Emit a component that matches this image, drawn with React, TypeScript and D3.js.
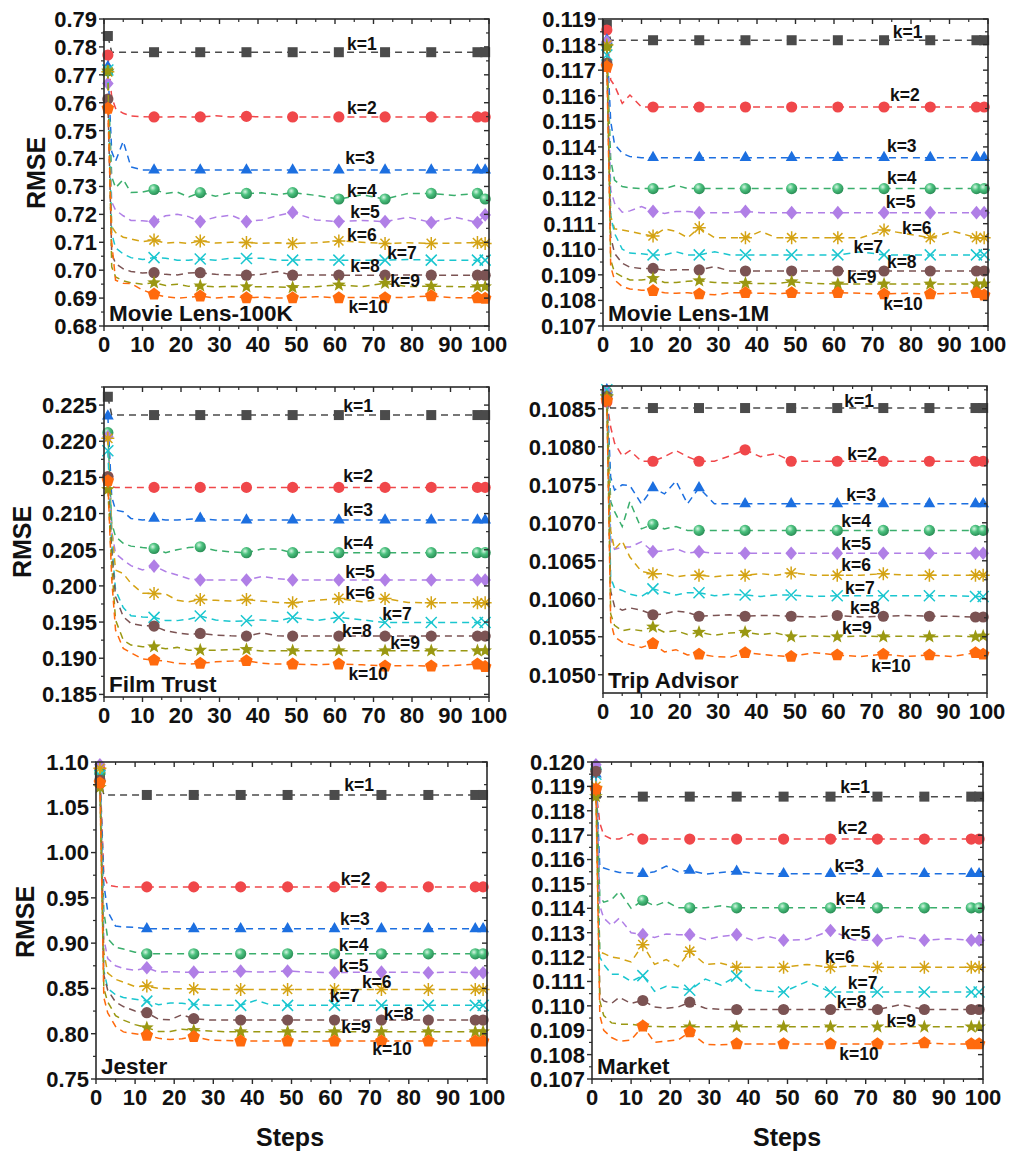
import React from "react";
import * as d3 from "d3";

// ---------- shared data ----------
const STEPS = [1, 2, 3, 5, 7, 10, 13, 16, 19, 22, 25, 29, 33, 37, 41, 45, 49, 55, 61, 67, 73, 79, 85, 91, 97, 99];
const MARKER_STEPS = [1, 13, 25, 37, 49, 61, 73, 85, 97, 99];
const SERIES = ["k=1", "k=2", "k=3", "k=4", "k=5", "k=6", "k=7", "k=8", "k=9", "k=10"];
const X_TICKS = [0, 10, 20, 30, 40, 50, 60, 70, 80, 90, 100];

// ---------- Movie Lens-100K ----------
const ML100K = [
  [0.7839,0.7781,0.7781,0.7781,0.7781,0.7781,0.7781,0.7781,0.7781,0.7781,0.7781,0.7781,0.7781,0.7781,0.7781,0.7781,0.7781,0.7781,0.7781,0.7781,0.7781,0.7781,0.7781,0.7781,0.7781,0.7781],
  [0.7771,0.7620,0.7580,0.7562,0.7553,0.7550,0.7549,0.7549,0.7550,0.7549,0.7549,0.7553,0.7549,0.7551,0.7549,0.7549,0.7549,0.7549,0.7549,0.7549,0.7549,0.7549,0.7549,0.7549,0.7549,0.7549],
  [0.7729,0.7425,0.7390,0.7462,0.7370,0.7359,0.7359,0.7359,0.7359,0.7359,0.7359,0.7359,0.7359,0.7359,0.7359,0.7359,0.7359,0.7359,0.7359,0.7359,0.7359,0.7359,0.7359,0.7359,0.7359,0.7359],
  [0.7714,0.7335,0.7295,0.7325,0.7278,0.7280,0.7289,0.7275,0.7280,0.7262,0.7278,0.7265,0.7277,0.7275,0.7277,0.7270,0.7278,0.7268,0.7255,0.7270,0.7255,0.7275,0.7275,0.7268,0.7275,0.7255],
  [0.7669,0.7245,0.7215,0.7195,0.7178,0.7177,0.7174,0.7195,0.7200,0.7192,0.7174,0.7190,0.7197,0.7174,0.7180,0.7195,0.7207,0.7180,0.7174,0.7178,0.7174,0.7190,0.7171,0.7190,0.7171,0.7198],
  [0.7711,0.7156,0.7135,0.7118,0.7112,0.7102,0.7108,0.7097,0.7100,0.7096,0.7105,0.7097,0.7100,0.7099,0.7096,0.7098,0.7096,0.7098,0.7105,0.7100,0.7096,0.7098,0.7096,0.7097,0.7099,0.7096],
  [0.7717,0.7132,0.7080,0.7058,0.7045,0.7038,0.7045,0.7043,0.7036,0.7036,0.7040,0.7036,0.7043,0.7042,0.7043,0.7036,0.7036,0.7038,0.7036,0.7036,0.7036,0.7038,0.7036,0.7036,0.7036,0.7036],
  [0.7613,0.7060,0.7024,0.7005,0.6995,0.6990,0.6991,0.6985,0.6983,0.6990,0.6991,0.6985,0.6983,0.6982,0.6985,0.6995,0.6982,0.6983,0.6982,0.6982,0.6982,0.6983,0.6982,0.6982,0.6982,0.6982],
  [0.7714,0.7012,0.6976,0.6962,0.6955,0.6950,0.6955,0.6945,0.6950,0.6942,0.6944,0.6940,0.6942,0.6941,0.6941,0.6940,0.6938,0.6941,0.6947,0.6941,0.6953,0.6941,0.6943,0.6941,0.6941,0.6941],
  [0.7580,0.7100,0.6964,0.6953,0.6952,0.6929,0.6914,0.6905,0.6900,0.6903,0.6907,0.6900,0.6905,0.6901,0.6903,0.6900,0.6901,0.6905,0.6901,0.6903,0.6901,0.6903,0.6908,0.6901,0.6901,0.6899],
];
const ML100K_TICKS = [0.68, 0.69, 0.70, 0.71, 0.72, 0.73, 0.74, 0.75, 0.76, 0.77, 0.78, 0.79];
const ML100K_LABELS = [[67, 0.781], [67, 0.7581], [66.5, 0.7402], [67, 0.7283], [67.8, 0.7208], [67, 0.7126], [77.4, 0.7061], [67.8, 0.7015], [78.2, 0.6961], [68.6, 0.6868]];

// ---------- Movie Lens-1M ----------
const ML1M = [
  [0.11877,0.11817,0.11817,0.11817,0.11817,0.11817,0.11817,0.11817,0.11817,0.11817,0.11817,0.11817,0.11817,0.11817,0.11817,0.11817,0.11817,0.11817,0.11817,0.11817,0.11817,0.11817,0.11817,0.11817,0.11817,0.11817],
  [0.11857,0.11662,0.11640,0.11570,0.11603,0.11556,0.11556,0.11556,0.11556,0.11556,0.11556,0.11556,0.11556,0.11556,0.11556,0.11556,0.11556,0.11556,0.11556,0.11556,0.11556,0.11556,0.11556,0.11556,0.11556,0.11556],
  [0.11818,0.11500,0.11410,0.11375,0.11362,0.11358,0.11358,0.11358,0.11358,0.11358,0.11358,0.11358,0.11358,0.11358,0.11358,0.11358,0.11358,0.11358,0.11358,0.11358,0.11358,0.11358,0.11358,0.11358,0.11358,0.11358],
  [0.11798,0.11350,0.11270,0.11245,0.11240,0.11237,0.11237,0.11237,0.11250,0.11237,0.11237,0.11237,0.11237,0.11237,0.11237,0.11237,0.11237,0.11237,0.11237,0.11237,0.11237,0.11237,0.11237,0.11237,0.11237,0.11237],
  [0.11811,0.11232,0.11180,0.11145,0.11150,0.11167,0.11148,0.11140,0.11148,0.11148,0.11143,0.11143,0.11143,0.11148,0.11143,0.11143,0.11143,0.11143,0.11143,0.11143,0.11143,0.11143,0.11143,0.11143,0.11143,0.11143],
  [0.11798,0.11130,0.11080,0.11075,0.11070,0.11060,0.11052,0.11080,0.11070,0.11045,0.11084,0.11045,0.11045,0.11045,0.11070,0.11045,0.11045,0.11045,0.11045,0.11045,0.11075,0.11060,0.11045,0.11070,0.11045,0.11045],
  [0.11759,0.11130,0.11062,0.11000,0.10985,0.10982,0.10978,0.10978,0.10990,0.10978,0.10978,0.10990,0.10978,0.10978,0.10978,0.10978,0.10978,0.10978,0.10978,0.10990,0.10978,0.10978,0.10978,0.10978,0.10978,0.10978],
  [0.11727,0.11050,0.10984,0.10945,0.10930,0.10925,0.10925,0.10918,0.10920,0.10920,0.10919,0.10932,0.10915,0.10915,0.10915,0.10915,0.10915,0.10915,0.10915,0.10915,0.10915,0.10915,0.10915,0.10915,0.10915,0.10915],
  [0.11792,0.10958,0.10910,0.10893,0.10880,0.10880,0.10886,0.10870,0.10870,0.10875,0.10877,0.10870,0.10868,0.10867,0.10866,0.10866,0.10873,0.10866,0.10864,0.10864,0.10864,0.10864,0.10864,0.10864,0.10864,0.10864],
  [0.11714,0.10932,0.10880,0.10854,0.10845,0.10840,0.10838,0.10830,0.10828,0.10830,0.10825,0.10822,0.10830,0.10830,0.10828,0.10826,0.10830,0.10828,0.10830,0.10828,0.10825,0.10828,0.10825,0.10828,0.10830,0.10821],
];
const ML1M_TICKS = [0.107, 0.108, 0.109, 0.110, 0.111, 0.112, 0.113, 0.114, 0.115, 0.116, 0.117, 0.118, 0.119];
const ML1M_LABELS = [[79.1, 0.11849], [78.4, 0.11603], [77.6, 0.11404], [77.6, 0.11278], [77.3, 0.11185], [81.5, 0.11083], [68.9, 0.11009], [77.6, 0.1095], [67.2, 0.10892], [77.9, 0.10786]];

// ---------- Film Trust ----------
const FT = [
  [0.22615,0.22362,0.22362,0.22362,0.22362,0.22362,0.22362,0.22362,0.22362,0.22362,0.22362,0.22362,0.22362,0.22362,0.22362,0.22362,0.22362,0.22362,0.22362,0.22362,0.22362,0.22362,0.22362,0.22362,0.22362,0.22362],
  [0.21509,0.21370,0.21362,0.21362,0.21362,0.21362,0.21362,0.21362,0.21362,0.21362,0.21362,0.21362,0.21362,0.21362,0.21362,0.21362,0.21362,0.21362,0.21362,0.21362,0.21362,0.21362,0.21362,0.21362,0.21362,0.21362],
  [0.22348,0.21233,0.21048,0.21025,0.20933,0.20910,0.20933,0.20910,0.20910,0.20920,0.20933,0.20910,0.20910,0.20910,0.20910,0.20910,0.20910,0.20910,0.20910,0.20910,0.20910,0.20910,0.20910,0.20910,0.20910,0.20910],
  [0.22118,0.20870,0.20680,0.20590,0.20550,0.20530,0.20518,0.20460,0.20500,0.20530,0.20541,0.20490,0.20470,0.20459,0.20510,0.20510,0.20459,0.20470,0.20459,0.20459,0.20459,0.20459,0.20459,0.20459,0.20459,0.20459],
  [0.22062,0.20750,0.20449,0.20357,0.20280,0.20220,0.20274,0.20200,0.20150,0.20100,0.20081,0.20081,0.20081,0.20081,0.20130,0.20100,0.20081,0.20081,0.20081,0.20081,0.20081,0.20081,0.20081,0.20081,0.20081,0.20081],
  [0.22040,0.20800,0.20219,0.20170,0.20035,0.19900,0.19896,0.19890,0.19800,0.19780,0.19813,0.19800,0.19790,0.19813,0.19790,0.19770,0.19767,0.19800,0.19827,0.19780,0.19827,0.19770,0.19767,0.19767,0.19767,0.19767],
  [0.21869,0.20600,0.19942,0.19700,0.19588,0.19570,0.19565,0.19520,0.19520,0.19540,0.19583,0.19530,0.19510,0.19518,0.19530,0.19510,0.19565,0.19520,0.19565,0.19530,0.19495,0.19495,0.19495,0.19495,0.19495,0.19495],
  [0.21509,0.20500,0.19850,0.19574,0.19482,0.19450,0.19445,0.19380,0.19350,0.19330,0.19343,0.19320,0.19310,0.19306,0.19350,0.19310,0.19306,0.19306,0.19306,0.19306,0.19306,0.19306,0.19306,0.19306,0.19306,0.19306],
  [0.21334,0.20300,0.19528,0.19251,0.19182,0.19160,0.19159,0.19130,0.19150,0.19110,0.19113,0.19110,0.19120,0.19122,0.19100,0.19104,0.19104,0.19104,0.19104,0.19104,0.19104,0.19104,0.19104,0.19104,0.19104,0.19104],
  [0.21454,0.20100,0.19389,0.19136,0.19076,0.18990,0.18975,0.18960,0.18930,0.18920,0.18929,0.18950,0.18960,0.18965,0.18930,0.18920,0.18919,0.18910,0.18919,0.18910,0.18892,0.18900,0.18892,0.18900,0.18919,0.18883],
];
const FT_TICKS = [0.185, 0.19, 0.195, 0.2, 0.205, 0.21, 0.215, 0.22, 0.225];
const FT_LABELS = [[66, 0.2249], [66, 0.21523], [66, 0.21048], [66, 0.20592], [66.5, 0.20196], [66.5, 0.19901], [76.1, 0.19611], [65.7, 0.1938], [78.2, 0.19214], [68.6, 0.18781]];

// ---------- Trip Advisor ----------
const TA = [
  [0.10868,0.10851,0.10851,0.10851,0.10851,0.10851,0.10851,0.10851,0.10851,0.10851,0.10851,0.10851,0.10851,0.10851,0.10851,0.10851,0.10851,0.10851,0.10851,0.10851,0.10851,0.10851,0.10851,0.10851,0.10851,0.10851],
  [0.10859,0.10826,0.10805,0.10788,0.10795,0.10781,0.10781,0.10787,0.10795,0.10787,0.10781,0.10781,0.10788,0.10796,0.10787,0.10791,0.10781,0.10781,0.10781,0.10781,0.10781,0.10781,0.10781,0.10781,0.10781,0.10781],
  [0.10875,0.10760,0.10743,0.10750,0.10749,0.10725,0.10746,0.10738,0.10755,0.10725,0.10746,0.10725,0.10725,0.10725,0.10725,0.10725,0.10725,0.10725,0.10725,0.10725,0.10725,0.10725,0.10725,0.10725,0.10725,0.10725],
  [0.10872,0.10728,0.10715,0.10695,0.10728,0.10692,0.10698,0.10692,0.10695,0.10690,0.10690,0.10690,0.10690,0.10690,0.10690,0.10690,0.10690,0.10690,0.10690,0.10690,0.10690,0.10690,0.10690,0.10690,0.10690,0.10690],
  [0.10872,0.10680,0.10665,0.10668,0.10668,0.10675,0.10662,0.10663,0.10666,0.10660,0.10662,0.10660,0.10660,0.10660,0.10660,0.10660,0.10660,0.10660,0.10660,0.10660,0.10660,0.10660,0.10660,0.10660,0.10660,0.10660],
  [0.10868,0.10690,0.10665,0.10676,0.10655,0.10636,0.10633,0.10633,0.10629,0.10631,0.10631,0.10629,0.10631,0.10631,0.10633,0.10631,0.10634,0.10631,0.10631,0.10631,0.10633,0.10631,0.10631,0.10631,0.10631,0.10631],
  [0.10875,0.10628,0.10614,0.10611,0.10606,0.10603,0.10613,0.10609,0.10605,0.10608,0.10608,0.10604,0.10606,0.10605,0.10603,0.10605,0.10605,0.10603,0.10604,0.10604,0.10604,0.10604,0.10604,0.10604,0.10603,0.10603],
  [0.10866,0.10610,0.10590,0.10585,0.10588,0.10585,0.10579,0.10580,0.10584,0.10582,0.10577,0.10578,0.10579,0.10577,0.10578,0.10578,0.10577,0.10576,0.10578,0.10576,0.10577,0.10578,0.10577,0.10577,0.10576,0.10576],
  [0.10866,0.10580,0.10565,0.10558,0.10560,0.10558,0.10563,0.10556,0.10558,0.10553,0.10556,0.10552,0.10555,0.10556,0.10553,0.10555,0.10550,0.10551,0.10550,0.10551,0.10550,0.10551,0.10550,0.10551,0.10550,0.10551],
  [0.10861,0.10570,0.10550,0.10543,0.10540,0.10536,0.10541,0.10530,0.10533,0.10526,0.10527,0.10524,0.10523,0.10529,0.10527,0.10525,0.10524,0.10529,0.10526,0.10524,0.10527,0.10524,0.10526,0.10524,0.10529,0.10527],
];
const TA_TICKS = [0.105, 0.1055, 0.106, 0.1065, 0.107, 0.1075, 0.108, 0.1085];
const TA_LABELS = [[66.7, 0.1086], [67.5, 0.10791], [67.2, 0.10737], [65.9, 0.10702], [65.9, 0.10672], [65.9, 0.10644], [66.9, 0.10614], [68.2, 0.10588], [66.1, 0.10562], [75.0, 0.10512]];

// ---------- Jester ----------
const JESTER = [
  [1.085,1.0636,1.0636,1.0636,1.0636,1.0636,1.0636,1.0636,1.0636,1.0636,1.0636,1.0636,1.0636,1.0636,1.0636,1.0636,1.0636,1.0636,1.0636,1.0636,1.0636,1.0636,1.0636,1.0636,1.0636,1.0636],
  [1.092,0.975,0.964,0.9625,0.9621,0.9621,0.9621,0.9621,0.9621,0.9621,0.9621,0.9621,0.9621,0.9621,0.9621,0.9621,0.9621,0.9621,0.9621,0.9621,0.9621,0.9621,0.9621,0.9621,0.9621,0.9621],
  [1.090,0.965,0.935,0.9188,0.9180,0.9175,0.9158,0.9158,0.9158,0.9158,0.9158,0.9158,0.9158,0.9158,0.9158,0.9158,0.9158,0.9158,0.9158,0.9158,0.9158,0.9158,0.9158,0.9158,0.9158,0.9158],
  [1.088,0.935,0.905,0.8955,0.8935,0.8900,0.8882,0.8882,0.8882,0.8882,0.8882,0.8882,0.8882,0.8882,0.8882,0.8882,0.8882,0.8882,0.8882,0.8882,0.8882,0.8882,0.8882,0.8882,0.8882,0.8882],
  [1.097,0.905,0.883,0.875,0.872,0.870,0.8728,0.8680,0.8685,0.8680,0.8680,0.8680,0.8685,0.8691,0.8680,0.8685,0.8691,0.8680,0.8673,0.8680,0.8680,0.8680,0.8673,0.8680,0.8673,0.8673],
  [1.093,0.890,0.867,0.860,0.857,0.852,0.8526,0.8500,0.8495,0.8496,0.8496,0.8490,0.8489,0.8489,0.8489,0.8489,0.8489,0.8489,0.8489,0.8489,0.8489,0.8489,0.8489,0.8489,0.8489,0.8489],
  [1.085,0.870,0.850,0.843,0.840,0.838,0.836,0.832,0.834,0.8335,0.8324,0.8313,0.8313,0.8313,0.8370,0.8313,0.8313,0.8313,0.8313,0.8313,0.8313,0.8313,0.8313,0.8313,0.8313,0.8313],
  [1.080,0.865,0.848,0.835,0.830,0.825,0.8232,0.8160,0.8155,0.8210,0.8166,0.8151,0.8151,0.8151,0.8151,0.8151,0.8151,0.8151,0.8151,0.8151,0.8151,0.8151,0.8151,0.8151,0.8151,0.8151],
  [1.072,0.850,0.835,0.820,0.815,0.810,0.8066,0.8025,0.8025,0.8050,0.8037,0.8030,0.8022,0.8022,0.8022,0.8022,0.8022,0.8022,0.8022,0.8022,0.8022,0.8022,0.8022,0.8022,0.8022,0.8022],
  [1.077,0.840,0.823,0.808,0.802,0.800,0.7982,0.7950,0.7935,0.7945,0.7967,0.7930,0.7925,0.7919,0.7919,0.7919,0.7919,0.7919,0.7919,0.7919,0.7919,0.7919,0.7919,0.7919,0.7919,0.7919],
];
const JESTER_TICKS = [0.75, 0.8, 0.85, 0.9, 0.95, 1.0, 1.05, 1.1];
const JESTER_LABELS = [[67.3, 1.0749], [66.4, 0.9712], [66.2, 0.927], [65.9, 0.8983], [65.9, 0.8754], [71.8, 0.8567], [63.6, 0.842], [77.4, 0.8221], [66.5, 0.807], [75.7, 0.7838]];

// ---------- Market ----------
const MARKET = [
  [0.11870,0.11858,0.11858,0.11858,0.11858,0.11858,0.11858,0.11858,0.11858,0.11858,0.11858,0.11858,0.11858,0.11858,0.11858,0.11858,0.11858,0.11858,0.11858,0.11858,0.11858,0.11858,0.11858,0.11858,0.11858,0.11858],
  [0.11889,0.11750,0.11700,0.11684,0.11684,0.11705,0.11684,0.11684,0.11684,0.11684,0.11684,0.11684,0.11684,0.11684,0.11684,0.11684,0.11684,0.11684,0.11684,0.11684,0.11684,0.11684,0.11684,0.11684,0.11684,0.11684],
  [0.11950,0.11570,0.11565,0.11555,0.11547,0.11545,0.11542,0.11550,0.11573,0.11550,0.11556,0.11540,0.11547,0.11552,0.11545,0.11542,0.11542,0.11542,0.11542,0.11542,0.11542,0.11542,0.11542,0.11542,0.11542,0.11542],
  [0.11970,0.11449,0.11425,0.11435,0.11470,0.11400,0.11433,0.11410,0.11428,0.11402,0.11402,0.11402,0.11410,0.11402,0.11402,0.11402,0.11402,0.11402,0.11402,0.11402,0.11402,0.11402,0.11402,0.11402,0.11402,0.11402],
  [0.11989,0.11410,0.11360,0.11330,0.11360,0.11300,0.11292,0.11280,0.11295,0.11292,0.11292,0.11272,0.11285,0.11292,0.11270,0.11285,0.11269,0.11272,0.11309,0.11270,0.11269,0.11285,0.11269,0.11275,0.11269,0.11269],
  [0.11900,0.11220,0.11215,0.11200,0.11195,0.11180,0.11251,0.11170,0.11190,0.11160,0.11224,0.11170,0.11175,0.11158,0.11158,0.11158,0.11158,0.11170,0.11158,0.11165,0.11158,0.11158,0.11158,0.11158,0.11158,0.11158],
  [0.11950,0.11200,0.11170,0.11130,0.11130,0.11100,0.11124,0.11060,0.11080,0.11075,0.11064,0.11110,0.11085,0.11122,0.11065,0.11060,0.11057,0.11100,0.11057,0.11057,0.11057,0.11057,0.11057,0.11057,0.11057,0.11057],
  [0.11962,0.11040,0.11020,0.11010,0.11035,0.11010,0.11022,0.10995,0.10990,0.10995,0.11015,0.10990,0.10985,0.10985,0.10985,0.10985,0.10985,0.10985,0.10985,0.10985,0.10985,0.11005,0.10985,0.10985,0.10985,0.10985],
  [0.11859,0.11020,0.10960,0.10930,0.10925,0.10925,0.10917,0.10915,0.10914,0.10914,0.10914,0.10914,0.10914,0.10914,0.10914,0.10914,0.10914,0.10914,0.10914,0.10914,0.10914,0.10914,0.10914,0.10914,0.10914,0.10914],
  [0.11889,0.10960,0.10900,0.10870,0.10855,0.10860,0.10917,0.10850,0.10855,0.10860,0.10893,0.10842,0.10840,0.10844,0.10844,0.10844,0.10844,0.10844,0.10844,0.10844,0.10844,0.10844,0.10848,0.10844,0.10844,0.10844],
];
const MARKET_TICKS = [0.107, 0.108, 0.109, 0.11, 0.111, 0.112, 0.113, 0.114, 0.115, 0.116, 0.117, 0.118, 0.119, 0.12];
const MARKET_LABELS = [[67.3, 0.11897], [66.6, 0.11729], [65.8, 0.11576], [66.1, 0.11439], [67.4, 0.11299], [63.4, 0.11199], [69.2, 0.11094], [66.4, 0.11016], [79.1, 0.10939], [68.3, 0.10804]];

// ---------- styling ----------
const COLORS = ["#4b4b4b", "#f0474a", "#1c6fe0", "#3aae6c", "#b07fe6", "#d4a314", "#1ac6cf", "#7b5353", "#9a9812", "#ff6a0d"];
const FONT = "'Liberation Sans', Arial, Helvetica, sans-serif";
const AXIS = "#2b2b2b";

type Panel = {
  title: string;
  data: number[][];
  ticks: number[];
  fmt: string;
  labels: number[][];
  domain: [number, number];
  box: { x0: number; x1: number; y0: number; y1: number };
  ylabel?: [number, number];
  xlabel?: [number, number];
};

const PANELS: Panel[] = [
  { title: "Movie Lens-100K", data: ML100K, ticks: ML100K_TICKS, fmt: ".2f", labels: ML100K_LABELS, domain: [0.68, 0.79], box: { x0: 104, x1: 489, y0: 19, y1: 326 }, ylabel: [36, 173] },
  { title: "Movie Lens-1M", data: ML1M, ticks: ML1M_TICKS, fmt: ".3f", labels: ML1M_LABELS, domain: [0.107, 0.119], box: { x0: 603, x1: 988, y0: 19, y1: 326 } },
  { title: "Film Trust", data: FT, ticks: FT_TICKS, fmt: ".3f", labels: FT_LABELS, domain: [0.18464, 0.2275], box: { x0: 104, x1: 489, y0: 387, y1: 697 }, ylabel: [22, 542] },
  { title: "Trip Advisor", data: TA, ticks: TA_TICKS, fmt: ".4f", labels: TA_LABELS, domain: [0.10476, 0.1088], box: { x0: 603, x1: 987, y0: 386, y1: 693 } },
  { title: "Jester", data: JESTER, ticks: JESTER_TICKS, fmt: ".2f", labels: JESTER_LABELS, domain: [0.75, 1.1], box: { x0: 96, x1: 487, y0: 762, y1: 1079 }, ylabel: [25, 922], xlabel: [290, 1137] },
  { title: "Market", data: MARKET, ticks: MARKET_TICKS, fmt: ".3f", labels: MARKET_LABELS, domain: [0.107, 0.12], box: { x0: 592, x1: 983, y0: 762, y1: 1079 }, xlabel: [787, 1137] },
];

function polyPath(n: number, r: number, rot: number, inner?: number): string {
  const pts: string[] = [];
  const total = inner ? n * 2 : n;
  for (let i = 0; i < total; i++) {
    const rr = inner && i % 2 === 1 ? inner : r;
    const a = rot + (i * 2 * Math.PI) / total;
    pts.push(`${(rr * Math.cos(a)).toFixed(2)},${(rr * Math.sin(a)).toFixed(2)}`);
  }
  return "M" + pts.join("L") + "Z";
}

function Marker({ k, x, y }: { k: number; x: number; y: number }) {
  const c = COLORS[k];
  const t = `translate(${x},${y})`;
  switch (k) {
    case 0:
      return <rect x={x - 5} y={y - 5} width={10} height={10} fill={c} />;
    case 1:
    case 7:
      return <circle cx={x} cy={y} r={5.6} fill={c} />;
    case 3:
      return <circle cx={x} cy={y} r={5.6} fill="url(#greenBall)" />;
    case 2:
      return <path transform={t} d={polyPath(3, 6.8, -Math.PI / 2)} fill={c} />;
    case 4:
      return <path transform={t} d="M0,-6.8L5.8,0L0,6.8L-5.8,0Z" fill={c} />;
    case 5:
      return (
        <path transform={t} d="M-6.5,0H6.5M0,-6.5V6.5M-4.6,-4.6L4.6,4.6M-4.6,4.6L4.6,-4.6" stroke={c} strokeWidth={1.5} fill="none" />
      );
    case 6:
      return <path transform={t} d="M-5.5,-5.5L5.5,5.5M-5.5,5.5L5.5,-5.5" stroke={c} strokeWidth={1.5} fill="none" />;
    case 8:
      return <path transform={t} d={polyPath(5, 7.2, -Math.PI / 2, 3.0)} fill={c} />;
    case 9:
    default:
      return <path transform={t} d={polyPath(5, 6.6, -Math.PI / 2)} fill={c} />;
  }
}

function PanelView({ p }: { p: Panel }) {
  const { x0, x1, y0, y1 } = p.box;
  const x = d3.scaleLinear().domain([0, 100]).range([x0, x1]);
  const y = d3.scaleLinear().domain(p.domain).range([y1, y0]);
  const fmt = d3.format(p.fmt);
  const line = d3
    .line<[number, number]>()
    .x((d) => x(d[0]))
    .y((d) => y(d[1]));
  const step = p.ticks[1] - p.ticks[0];
  const minorY = p.ticks.map((t) => t + step / 2).filter((t) => t >= p.domain[0] && t <= p.domain[1]);
  const minorX = X_TICKS.slice(0, -1).map((t) => t + 5);
  const textStyle = { fontFamily: FONT, fontWeight: 700 as const };

  return (
    <g>
      {/* series */}
      {p.data.map((vals, k) => {
        const pts: [number, number][] = STEPS.map((s, i) => [s, vals[i]] as [number, number]).filter((d) => d[1] !== undefined);
        const marks = pts.filter((d) => MARKER_STEPS.includes(d[0]));
        return (
          <g key={k}>
            <path d={line(pts) || ""} fill="none" stroke={COLORS[k]} strokeWidth={1.5} strokeDasharray="7,5" />
            {marks.map((d, i) => (
              <Marker key={i} k={k} x={x(d[0])} y={y(d[1])} />
            ))}
          </g>
        );
      })}
      {/* frame */}
      <rect x={x0} y={y0} width={x1 - x0} height={y1 - y0} fill="none" stroke={AXIS} strokeWidth={1.6} />
      {/* y ticks */}
      {p.ticks.map((t) => (
        <g key={"yt" + t}>
          <line x1={x0 - 5} x2={x0} y1={y(t)} y2={y(t)} stroke={AXIS} strokeWidth={1.4} />
          <line x1={x1} x2={x1 - 5} y1={y(t)} y2={y(t)} stroke={AXIS} strokeWidth={1.4} />
          <text x={x0 - 7} y={y(t)} dy="0.36em" textAnchor="end" fontSize={22} fill="#111" style={textStyle}>
            {fmt(t)}
          </text>
        </g>
      ))}
      {minorY.map((t) => (
        <g key={"ym" + t}>
          <line x1={x0 - 3} x2={x0} y1={y(t)} y2={y(t)} stroke={AXIS} strokeWidth={1.2} />
          <line x1={x1} x2={x1 - 3} y1={y(t)} y2={y(t)} stroke={AXIS} strokeWidth={1.2} />
        </g>
      ))}
      {/* x ticks */}
      {X_TICKS.map((t) => (
        <g key={"xt" + t}>
          <line x1={x(t)} x2={x(t)} y1={y1} y2={y1 + 5} stroke={AXIS} strokeWidth={1.4} />
          <line x1={x(t)} x2={x(t)} y1={y0} y2={y0 + 5} stroke={AXIS} strokeWidth={1.4} />
          <text x={x(t)} y={y1 + 26} textAnchor="middle" fontSize={22} fill="#111" style={textStyle}>
            {t}
          </text>
        </g>
      ))}
      {minorX.map((t) => (
        <g key={"xm" + t}>
          <line x1={x(t)} x2={x(t)} y1={y1} y2={y1 + 3} stroke={AXIS} strokeWidth={1.2} />
          <line x1={x(t)} x2={x(t)} y1={y0} y2={y0 + 3} stroke={AXIS} strokeWidth={1.2} />
        </g>
      ))}
      {/* series labels */}
      {p.labels.map((l, k) => (
        <text key={"lb" + k} x={x(l[0])} y={y(l[1])} dy="0.35em" textAnchor="middle" fontSize={17.5} fill="#111" style={textStyle}>
          {SERIES[k]}
        </text>
      ))}
      {/* title */}
      <text x={x0 + 5} y={y1 - 5} fontSize={22.5} fill="#111" style={textStyle}>
        {p.title}
      </text>
      {p.ylabel && (
        <text
          transform={`translate(${p.ylabel[0]},${p.ylabel[1]}) rotate(-90)`}
          dy="0.36em"
          textAnchor="middle"
          fontSize={25}
          fill="#111"
          style={textStyle}
        >
          RMSE
        </text>
      )}
      {p.xlabel && (
        <text x={p.xlabel[0]} y={p.xlabel[1]} dy="0.36em" textAnchor="middle" fontSize={25} fill="#111" style={textStyle}>
          Steps
        </text>
      )}
    </g>
  );
}

export default function App() {
  return (
    <svg width={1009} height={1152} style={{ position: "absolute", left: 0, top: 0, background: "#fff" }}>
      <defs>
        <radialGradient id="greenBall" cx="38%" cy="35%" r="65%">
          <stop offset="0%" stopColor="#d6f5e2" />
          <stop offset="45%" stopColor="#4cc27f" />
          <stop offset="100%" stopColor="#2b8f57" />
        </radialGradient>
      </defs>
      <rect x={0} y={0} width={1009} height={1152} fill="#fff" />
      {PANELS.map((p, i) => (
        <PanelView key={i} p={p} />
      ))}
    </svg>
  );
}
